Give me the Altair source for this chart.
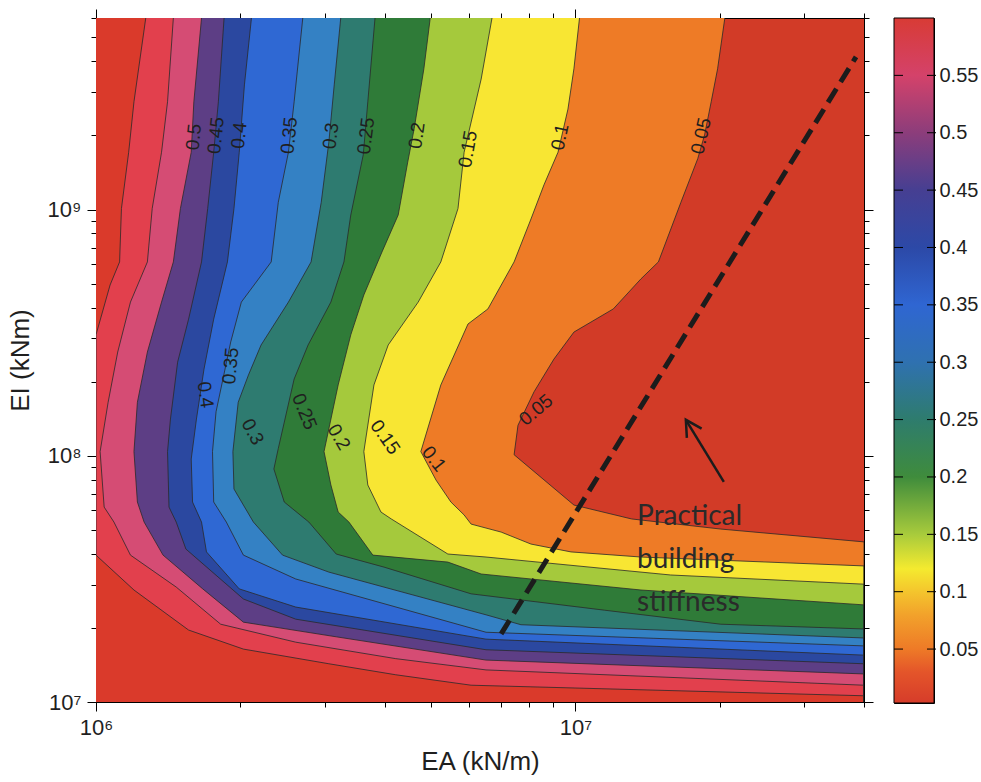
import altair as alt
import pandas as pd

# ---- axis extents -------------------------------------------------------
EA_RANGE = [1e6, 4e7]      # kN/m
EI_RANGE = [1e7, 6e9]      # kNm

# ---- contour levels and the fill of the band just above each level -----
levels = [0.05, 0.10, 0.15, 0.20, 0.25, 0.30, 0.35, 0.40, 0.45, 0.50, 0.55, 0.60]
band_fill = ["#EE7B26", "#F8E633", "#A5C93C", "#2F7B38", "#2E7B70", "#3481C4",
             "#2F68D3", "#2B48A0", "#5D3E85", "#D54C74", "#E2404D", "#DA3A2B"]
below_fill = "#D23B27"   # values under the lowest level

# ---- contour paths: EA reached by each contour at a given EI (top -> bottom)
c005_ei = [6e9, 3.73e9, 2.74e9, 2.01e9, 1.61e9, 1.07e9, 6.13e8, 5.23e8, 3.95e8, 3.18e8,
           2.47e8, 1.82e8, 1.33e8, 1.01e8, 6.31e7, 5.54e7, 5.04e7, 4.47e7, 1e7]
c005_ea = [2.05e7, 1.98e7, 1.92e7, 1.86e7, 1.80e7, 1.66e7, 1.49e7, 1.37e7, 1.20e7, 9.93e6,
           9.02e6, 8.20e6, 7.59e6, 7.45e6, 9.93e6, 1.31e7, 2.01e7, 4e7, 4e7]

c010_ei = [6e9, 3.73e9, 2.56e9, 1.71e9, 1.26e9, 9.16e8, 6.13e8, 3.95e8, 3.43e8, 1.94e8,
           1.04e8, 7.97e7, 6.49e7, 5.75e7, 5.28e7, 4.90e7, 4.38e7, 4.07e7, 3.88e7, 3.57e7, 1e7]
c010_ea = [1.02e7, 9.93e6, 9.65e6, 9.20e6, 8.60e6, 8.08e6, 7.45e6, 6.57e6, 5.97e6, 5.24e6,
           4.76e6, 5.12e6, 5.50e6, 5.86e6, 6.06e6, 7.00e6, 8.08e6, 9.79e6, 1.37e7, 4e7, 4e7]

c015_ei = [6e9, 3.39e9, 1.71e9, 1.01e9, 6.13e8, 4.21e8, 2.82e8, 1.94e8, 1.04e8, 7.61e7,
           5.91e7, 5.54e7, 3.99e7, 3.88e7, 3.28e7, 3.01e7, 1e7]
c015_ea = [6.70e6, 6.36e6, 5.86e6, 5.69e6, 5.24e6, 4.70e6, 4.07e6, 3.80e6, 3.62e6, 3.69e6,
           3.93e6, 4.13e6, 5.42e6, 6.51e6, 1.58e7, 4e7, 4e7]

c020_ei = [6e9, 3.73e9, 2.13e9, 1.56e9, 9.51e8, 6.73e8, 4.50e8, 3.10e8, 1.94e8, 1.04e8,
           7.61e7, 5.91e7, 5.38e7, 3.95e7, 3.70e7, 3.31e7, 2.85e7, 2.48e7, 1e7]
c020_ea = [4.98e6, 4.83e6, 4.61e6, 4.47e6, 4.27e6, 3.95e6, 3.62e6, 3.40e6, 3.20e6, 2.99e6,
           3.09e6, 3.20e6, 3.37e6, 3.78e6, 5.42e6, 6.36e6, 1.37e7, 4e7, 4e7]

c025_ei = [6e9, 2.74e9, 1.67e9, 9.51e8, 6.13e8, 4.21e8, 2.82e8, 2.05e8, 1.07e8, 8.84e7,
           6.49e7, 5.38e7, 3.99e7, 3.53e7, 2.75e7, 2.36e7, 2.07e7, 1.98e7, 1e7]
c025_ea = [3.82e6, 3.69e6, 3.61e6, 3.40e6, 3.29e6, 3.09e6, 2.77e6, 2.59e6, 2.40e6, 2.35e6,
           2.47e6, 2.78e6, 3.17e6, 3.99e6, 6.06e6, 1.15e7, 2.01e7, 4e7, 4e7]

c030_ei = [6e9, 3.21e9, 1.88e9, 1.07e9, 6.13e8, 4.21e8, 2.82e8, 2.13e8, 1.65e8, 1.04e8,
           7.33e7, 5.38e7, 3.95e7, 3.37e7, 2.26e7, 2.06e7, 1.82e7, 1e7]
c030_ea = [3.24e6, 3.14e6, 3.06e6, 2.95e6, 2.81e6, 2.52e6, 2.21e6, 2.08e6, 1.98e6, 1.93e6,
           1.94e6, 2.13e6, 2.45e6, 3.06e6, 6.51e6, 7.70e6, 4e7, 4e7]

c035_ei = [6e9, 2.74e9, 1.71e9, 1.07e9, 6.13e8, 4.21e8, 2.90e8, 2.05e8, 1.51e8, 1.04e8,
           6.49e7, 5.38e7, 3.95e7, 3.16e7, 1.92e7, 1.69e7, 1e7]
c035_ea = [2.70e6, 2.59e6, 2.52e6, 2.40e6, 2.32e6, 2.01e6, 1.91e6, 1.84e6, 1.78e6, 1.75e6,
           1.76e6, 1.87e6, 2.03e6, 2.61e6, 6.51e6, 4e7, 4e7]

c040_ei = [6e9, 3.21e9, 1.71e9, 1.01e9, 6.13e8, 3.59e8, 2.25e8, 1.41e8, 9.70e7, 6.49e7,
           5.38e7, 4.07e7, 2.88e7, 2.43e7, 1.80e7, 1.55e7, 1e7]
c040_ea = [2.11e6, 2.04e6, 1.99e6, 1.94e6, 1.88e6, 1.76e6, 1.68e6, 1.62e6, 1.58e6, 1.59e6,
           1.66e6, 1.70e6, 1.99e6, 2.61e6, 6.51e6, 4e7, 4e7]

c045_ei = [6e9, 2.74e9, 1.71e9, 1.01e9, 6.13e8, 3.59e8, 2.40e8, 1.41e8, 1.04e8, 6.19e7,
           5.38e7, 4.18e7, 2.62e7, 2.17e7, 1.63e7, 1.43e7, 1e7]
c045_ea = [1.85e6, 1.80e6, 1.76e6, 1.71e6, 1.66e6, 1.56e6, 1.48e6, 1.43e6, 1.41e6, 1.42e6,
           1.47e6, 1.54e6, 2.03e6, 2.61e6, 6.51e6, 4e7, 4e7]

c050_ei = [6e9, 2.74e9, 1.71e9, 1.01e9, 6.13e8, 4.21e8, 2.64e8, 1.65e8, 1.04e8, 6.49e7,
           5.38e7, 3.95e7, 2.88e7, 2.11e7, 1.84e7, 1.48e7, 1.30e7, 1e7]
c050_ea = [1.66e6, 1.60e6, 1.58e6, 1.50e6, 1.45e6, 1.37e6, 1.28e6, 1.22e6, 1.20e6, 1.22e6,
           1.26e6, 1.38e6, 1.67e6, 2.03e6, 3.17e6, 6.51e6, 4e7, 4e7]

c055_ei = [6e9, 2.74e9, 1.71e9, 1.01e9, 6.13e8, 4.21e8, 2.64e8, 1.65e8, 1.04e8, 6.19e7,
           5.38e7, 3.95e7, 2.93e7, 2.07e7, 1.75e7, 1.50e7, 1.35e7, 1.17e7, 1e7]
c055_ea = [1.45e6, 1.41e6, 1.37e6, 1.31e6, 1.28e6, 1.18e6, 1.11e6, 1.06e6, 1.02e6, 1.04e6,
           1.09e6, 1.18e6, 1.47e6, 1.82e6, 2.61e6, 4.22e6, 6.51e6, 4e7, 4e7]

c060_ei = [6e9, 2.74e9, 1.71e9, 1.01e9, 6.13e8, 4.94e8, 3.10e8, 3.95e7, 2.85e7, 1.96e7,
           1.64e7, 1.43e7, 1.29e7, 1.17e7, 1.06e7, 1e7]
c060_ea = [1.27e6, 1.20e6, 1.17e6, 1.13e6, 1.12e6, 1.07e6, 1e6, 1e6, 1.20e6, 1.56e6,
           2.03e6, 3.06e6, 4.22e6, 6.06e6, 4e7, 4e7]

contour_paths = [(c005_ei, c005_ea), (c010_ei, c010_ea), (c015_ei, c015_ea),
                 (c020_ei, c020_ea), (c025_ei, c025_ea), (c030_ei, c030_ea),
                 (c035_ei, c035_ea), (c040_ei, c040_ea), (c045_ei, c045_ea),
                 (c050_ei, c050_ea), (c055_ei, c055_ea), (c060_ei, c060_ea)]

# ---- inline contour labels ----------------------------------------------
clabel_text = ["0.5", "0.45", "0.4", "0.35", "0.3", "0.25", "0.2", "0.15", "0.1", "0.05",
               "0.35", "0.4", "0.3", "0.25", "0.2", "0.15", "0.1", "0.05"]
clabel_ea = [1.60e6, 1.78e6, 1.99e6, 2.53e6, 3.09e6, 3.66e6, 4.67e6, 5.97e6, 9.29e6, 1.83e7,
             1.91e6, 1.69e6, 2.12e6, 2.72e6, 3.21e6, 4.01e6, 5.07e6, 8.28e6]
clabel_ei = [1.97e9, 2.0e9, 2.0e9, 2.0e9, 1.99e9, 1.99e9, 2.0e9, 1.76e9, 1.97e9, 1.99e9,
             2.32e8, 1.77e8, 1.25e8, 1.51e8, 1.19e8, 1.19e8, 9.70e7, 1.535e8]
clabel_angle = [276, 276, 276, 276, 277, 277, 278, 280, 282, 283,
                275, 82, 62, 68, 60, 55, 52, 320]

# ---- practical building stiffness annotation ----------------------------
practical_ea = [7.0e6, 3.85e7]
practical_ei = [1.89e7, 4.17e9]
note_text = "Practical\nbuilding\nstiffness"
note_ea, note_ei = 1.345e7, 5.24e7
arrow_ea = [2.04e7, 1.70e7]     # tail, tip
arrow_ei = [7.83e7, 1.40e8]

# ---- axis ticks -----------------------------------------------------------
x_ticks = [1e6, 2e6, 3e6, 4e6, 5e6, 6e6, 7e6, 8e6, 9e6, 1e7, 2e7, 3e7, 4e7]
y_ticks = [1e7, 2e7, 3e7, 4e7, 5e7, 6e7, 7e7, 8e7, 9e7,
           1e8, 2e8, 3e8, 4e8, 5e8, 6e8, 7e8, 8e8, 9e8,
           1e9, 2e9, 3e9, 4e9, 5e9, 6e9]

# ---- colour bar -------------------------------------------------------------
cbar_lo, cbar_hi = 0.003, 0.6
cbar_labels = [0.05, 0.1, 0.15, 0.2, 0.25, 0.3, 0.35, 0.4, 0.45, 0.5, 0.55]
cbar_stop_values = [0.003, 0.03, 0.05, 0.08, 0.10, 0.12, 0.15, 0.20, 0.25, 0.30,
                    0.35, 0.40, 0.45, 0.50, 0.55, 0.60]
cbar_stop_colors = ["#D63C2A", "#E4552A", "#EE7A27", "#F2A22B", "#F4C52D", "#F4EA2F",
                    "#A8CB3C", "#3F8C3C", "#2E7C6D", "#2F71B0", "#2F66D2", "#2C49A7",
                    "#463F92", "#8C3D7B", "#D4426A", "#D83B35"]

FONT = "Liberation Sans"
INK = "#1f1f1f"

# ---- tables -----------------------------------------------------------------
rows = []
for lev, (ei, ea) in zip(levels, contour_paths):
    for i, (v_ei, v_ea) in enumerate(zip(ei, ea)):
        rows.append({"level": lev, "EI": v_ei, "EA": v_ea, "EA0": EA_RANGE[0], "i": i})
contours = pd.DataFrame(rows)

labels_df = pd.DataFrame({"text": clabel_text, "EA": clabel_ea, "EI": clabel_ei,
                          "angle": clabel_angle})
practical_df = pd.DataFrame({"EA": practical_ea, "EI": practical_ei, "i": [0, 1]})
arrow_df = pd.DataFrame({"EA": arrow_ea, "EI": arrow_ei, "i": [0, 1]})
tip_df = arrow_df.iloc[[1]]
note_df = pd.DataFrame({"EA": [note_ea], "EI": [note_ei], "text": [note_text]})

xs = alt.Scale(type="log", domain=EA_RANGE, nice=False)
ys = alt.Scale(type="log", domain=EI_RANGE, nice=False)

major_x = "datum.value == 1000000 || datum.value == 10000000"
major_y = "datum.value == 10000000 || datum.value == 100000000 || datum.value == 1000000000"
tick_x = {"condition": {"test": major_x, "value": 9}, "value": 5}
tick_y = {"condition": {"test": major_y, "value": 9}, "value": 5}

axis_bottom = alt.Axis(orient="bottom", values=x_ticks, tickSize=tick_x,
                       labelExpr="datum.value == 1000000 ? '10⁶' : datum.value == 10000000 ? '10⁷' : ''",
                       labelFlush=False, labelOverlap=False, labelPadding=6,
                       labelFontSize=22, title="EA (kN/m)", titleFontSize=26,
                       titleFontWeight="normal", titlePadding=10)
axis_left = alt.Axis(orient="left", values=y_ticks, tickSize=tick_y,
                     labelExpr="datum.value == 10000000 ? '10⁷' : datum.value == 100000000 ? '10⁸' : datum.value == 1000000000 ? '10⁹' : ''",
                     labelOverlap=False, labelPadding=6, labelFontSize=22,
                     title="EI (kNm)", titleFontSize=26, titleFontWeight="normal",
                     titlePadding=14)
axis_top = alt.Axis(orient="top", values=x_ticks, tickSize=tick_x, labels=False, title=None)
axis_right = alt.Axis(orient="right", values=y_ticks, tickSize=tick_y, labels=False, title=None)

# filled bands, painted from the lowest level upwards
layers = []
for k, lev in enumerate(levels):
    sub = contours[contours["level"] == lev]
    layers.append(
        alt.Chart(sub).mark_area(orient="horizontal", color=band_fill[k], clip=True,
                                 interpolate="linear").encode(
            y=alt.Y("EI:Q", scale=ys, axis=axis_left if k == 0 else None),
            x=alt.X("EA:Q", scale=xs, axis=axis_bottom if k == 0 else None),
            x2="EA0:Q",
        )
    )

contour_lines = alt.Chart(contours).mark_line(color="#2a2a2a", strokeWidth=0.8, clip=True).encode(
    x=alt.X("EA:Q", scale=xs, axis=None),
    y=alt.Y("EI:Q", scale=ys, axis=None),
    detail="level:N",
    order="i:Q",
)

contour_text = alt.Chart(labels_df).mark_text(font=FONT, fontSize=19, color=INK,
                                              align="center", baseline="middle").encode(
    x=alt.X("EA:Q", scale=xs, axis=None),
    y=alt.Y("EI:Q", scale=ys, axis=None),
    text="text:N",
    angle=alt.Angle("angle:Q", scale=None),
)

practical_line = alt.Chart(practical_df).mark_line(color="#1c1c1c", strokeWidth=5,
                                                   strokeDash=[16, 8], strokeCap="butt").encode(
    x=alt.X("EA:Q", scale=xs, axis=axis_top),
    y=alt.Y("EI:Q", scale=ys, axis=axis_right),
    order="i:Q",
)

arrow_shaft = alt.Chart(arrow_df).mark_line(color="#1c1c1c", strokeWidth=2.5).encode(
    x=alt.X("EA:Q", scale=xs, axis=None),
    y=alt.Y("EI:Q", scale=ys, axis=None),
    order="i:Q",
)
arrow_head = alt.Chart(tip_df).mark_point(shape="M -0.55 1 L 0 0 L 0.55 1", filled=False,
                                          stroke="#1c1c1c", strokeWidth=2.5, size=1000,
                                          angle=328, opacity=1).encode(
    x=alt.X("EA:Q", scale=xs, axis=None),
    y=alt.Y("EI:Q", scale=ys, axis=None),
)

note = alt.Chart(note_df).mark_text(font="Lato", fontSize=28, color="#2a2a2a", align="left",
                                    baseline="alphabetic", lineBreak="\n", lineHeight=43).encode(
    x=alt.X("EA:Q", scale=xs, axis=None),
    y=alt.Y("EI:Q", scale=ys, axis=None),
    text="text:N",
)

main = alt.layer(*layers, contour_lines, contour_text, practical_line, arrow_shaft,
                 arrow_head, note).resolve_axis(x="independent", y="independent").properties(
    width=768, height=684)

# colour bar
grad = alt.Gradient(
    gradient="linear", x1=0, x2=0, y1=1, y2=0,
    stops=[alt.GradientStop(offset=(v - cbar_lo) / (cbar_hi - cbar_lo), color=c)
           for v, c in zip(cbar_stop_values, cbar_stop_colors)],
)
cs = alt.Scale(domain=[cbar_lo, cbar_hi], nice=False, zero=False)
cbar_axis = alt.Axis(orient="right", values=cbar_labels, format="~g", ticks=False,
                     domain=False, grid=False, labelPadding=5, labelFontSize=20, title=None)
cbar_rect = alt.Chart(pd.DataFrame({"lo": [cbar_lo], "hi": [cbar_hi]})).mark_rect(
    fill=grad, stroke="black", strokeWidth=1).encode(
    y=alt.Y("lo:Q", scale=cs, axis=cbar_axis),
    y2="hi:Q",
    x=alt.value(0),
    x2=alt.value(40),
)
cbar_ticks_df = pd.DataFrame({"v": cbar_labels})
cbar_tick_l = alt.Chart(cbar_ticks_df).mark_rule(color="black", strokeWidth=1).encode(
    y=alt.Y("v:Q", scale=cs, axis=cbar_axis), x=alt.value(0), x2=alt.value(9))
cbar_tick_r = alt.Chart(cbar_ticks_df).mark_rule(color="black", strokeWidth=1).encode(
    y=alt.Y("v:Q", scale=cs, axis=cbar_axis), x=alt.value(33), x2=alt.value(42))
cbar = alt.layer(cbar_rect, cbar_tick_l, cbar_tick_r).properties(width=40, height=685)

chart = alt.hconcat(main, cbar, spacing=30, bounds="flush").properties(
    padding={"left": 6, "top": 6, "right": 0, "bottom": 0},
    background="white",
).configure_view(
    stroke="black", strokeWidth=1, fill=below_fill,
).configure_axis(
    grid=False, domainColor="black", tickColor="black", labelColor=INK, titleColor=INK,
    labelFont=FONT, titleFont=FONT, domainWidth=1, tickWidth=1,
)

chart.save("out.html", embed_options={"renderer": "svg", "actions": False})
